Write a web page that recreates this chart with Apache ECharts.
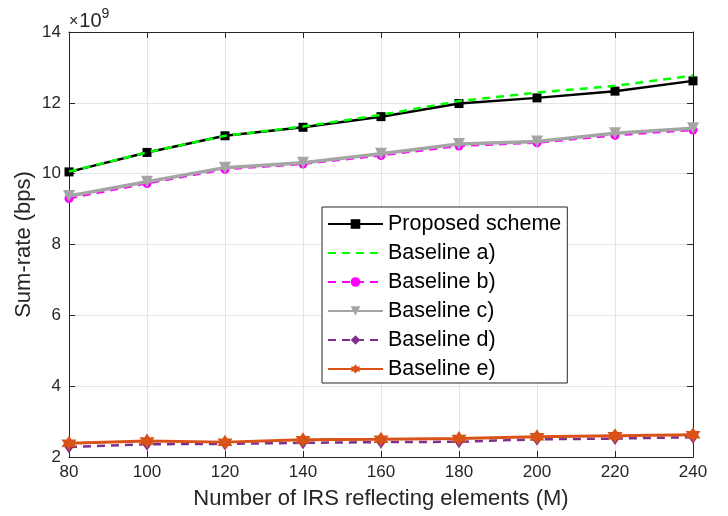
<!DOCTYPE html>
<html><head><meta charset="utf-8">
<script src="https://cdn.jsdelivr.net/npm/echarts@6/dist/echarts.min.js"></script>
<style>html,body{margin:0;padding:0;background:#fff}#c{width:728px;height:516px}</style>
</head><body><div id="c"></div>
<script>
const xVals = [80, 100, 120, 140, 160, 180, 200, 220, 240];
const proposed = [10.05, 10.6, 11.07, 11.31, 11.61, 11.98, 12.14, 12.33, 12.62];
const baseA = [10.06, 10.6, 11.07, 11.33, 11.66, 12.05, 12.29, 12.48, 12.77];
const baseB = [9.3, 9.72, 10.12, 10.27, 10.51, 10.78, 10.87, 11.08, 11.23];
const baseC = [9.37, 9.77, 10.17, 10.31, 10.56, 10.84, 10.91, 11.14, 11.28];
const baseD = [2.28, 2.36, 2.37, 2.4, 2.42, 2.43, 2.5, 2.52, 2.56];
const baseE = [2.39, 2.45, 2.42, 2.49, 2.5, 2.52, 2.57, 2.6, 2.63];
const names = ['Proposed scheme', 'Baseline a)', 'Baseline b)', 'Baseline c)', 'Baseline d)', 'Baseline e)'];
const xTicks = {min: 80, max: 240, interval: 20};
const yTicks = {min: 2, max: 14, interval: 2};

const hexagram = 'path://M0,-10 L2.9,-5 L8.66,-5 L5.8,0 L8.66,5 L2.9,5 L0,10 L-2.9,5 L-8.66,5 L-5.8,0 L-8.66,-5 L-2.9,-5 Z';
const pair = arr => arr.map((v, i) => [xVals[i], v]);
const FONT = '"Liberation Sans", Arial, Helvetica, sans-serif';

const chart = echarts.init(document.getElementById('c'), null, {renderer: 'canvas'});
const axisCommon = {
  axisLine: {show: true, onZero: false, lineStyle: {color: '#262626', width: 1}},
  axisTick: {show: true, inside: true, length: 6, lineStyle: {color: '#262626'}},
};
const legendData = names.map((n, i) => i === 1 ? {name: n, itemStyle: {opacity: 0}} : {name: n});
chart.setOption({
  animation: false,
  backgroundColor: '#fff',
  grid: {left: 69, right: 35, top: 32, bottom: 59, containLabel: false, outerBoundsMode: 'none'},
  xAxis: [
    Object.assign({type: 'value', position: 'bottom', min: xTicks.min, max: xTicks.max, interval: xTicks.interval,
      name: 'Number of IRS reflecting elements (M)', nameLocation: 'middle', nameGap: 31, nameMoveOverlap: false,
      nameTextStyle: {fontFamily: FONT, fontSize: 22, color: '#262626', verticalAlign: 'top'},
      axisLabel: {fontFamily: FONT, fontSize: 17, color: '#262626', margin: 7},
      splitLine: {show: true, lineStyle: {color: '#e5e5e5', width: 1}}}, axisCommon),
    Object.assign({type: 'value', position: 'top', min: xTicks.min, max: xTicks.max, interval: xTicks.interval,
      axisLabel: {show: false}, splitLine: {show: false}}, axisCommon)
  ],
  yAxis: [
    Object.assign({type: 'value', position: 'left', min: yTicks.min, max: yTicks.max, interval: yTicks.interval,
      name: 'Sum-rate (bps)', nameLocation: 'middle', nameGap: 34, nameMoveOverlap: false,
      nameTextStyle: {fontFamily: FONT, fontSize: 22, color: '#262626'},
      axisLabel: {fontFamily: FONT, fontSize: 17, color: '#262626', margin: 8},
      splitLine: {show: true, lineStyle: {color: '#e5e5e5', width: 1}}}, axisCommon),
    Object.assign({type: 'value', position: 'right', min: yTicks.min, max: yTicks.max, interval: yTicks.interval,
      axisLabel: {show: false}, splitLine: {show: false}}, axisCommon)
  ],
  legend: {
    show: true, orient: 'vertical', left: 322, top: 207,
    data: legendData,
    backgroundColor: '#fff', borderColor: '#262626', borderWidth: 1, borderRadius: 0,
    padding: [6, 6, 3, 5],
    itemWidth: 55, itemHeight: 12, itemGap: 7,
    textStyle: {fontFamily: FONT, fontSize: 21.5, color: '#000'}
  },
  graphic: [{
    type: 'text', left: 69, top: 7,
    style: {
      text: '{x|×}{b|10}{s|9}',
      rich: {
        x: {fontFamily: FONT, fontSize: 16, fill: '#262626', padding: [7, 1, 0, 0]},
        b: {fontFamily: FONT, fontSize: 20, fill: '#262626', padding: [7, 0, 0, 0]},
        s: {fontFamily: FONT, fontSize: 14, fill: '#262626', padding: [0, 0, 8, 0]}
      }
    }
  }],
  series: [
    {name: names[0], type: 'line', data: pair(proposed), symbol: 'rect', symbolSize: 9,
      lineStyle: {color: '#000', width: 2.5}, itemStyle: {color: '#000'}, z: 2},
    {name: names[1], type: 'line', data: pair(baseA), symbol: 'none', showSymbol: false,
      lineStyle: {color: '#00ff00', width: 2.5, type: [8, 6]}, itemStyle: {color: '#00ff00'}, z: 3},
    {name: names[2], type: 'line', data: pair(baseB), symbol: 'circle', symbolSize: 9,
      lineStyle: {color: '#ff00ff', width: 2, type: [8, 6]}, itemStyle: {color: '#ff00ff'}, z: 4},
    {name: names[3], type: 'line', data: pair(baseC), symbol: 'triangle', symbolRotate: 180, symbolSize: 12,
      lineStyle: {color: '#a5a5a5', width: 3.5}, itemStyle: {color: '#a5a5a5'}, z: 5},
    {name: names[4], type: 'line', data: pair(baseD), symbol: 'diamond', symbolSize: [9, 13],
      lineStyle: {color: '#7e2f8e', width: 2.5, type: [8, 6]}, itemStyle: {color: '#7e2f8e'}, z: 6},
    {name: names[5], type: 'line', data: pair(baseE), symbol: hexagram, symbolSize: 15,
      lineStyle: {color: '#d95319', width: 3}, itemStyle: {color: '#d95319'}, z: 7}
  ]
});
</script></body></html>
